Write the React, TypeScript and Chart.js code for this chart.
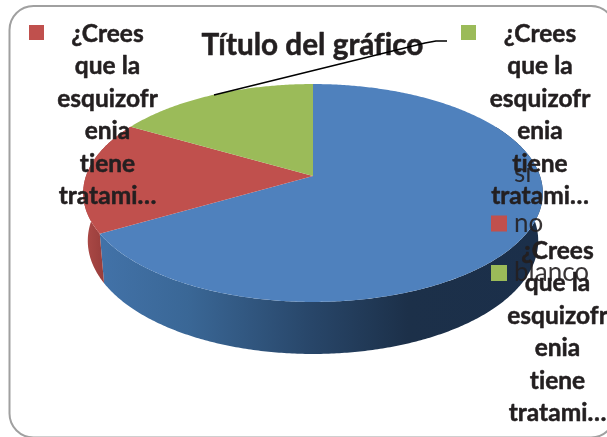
import React, { useEffect, useRef } from "react";
import { Chart, registerables } from "chart.js";

Chart.register(...registerables);

const categories = ["sí", "no", "blanco"];
const values = [20, 5, 5];
const sliceColors = ["#4f81bd", "#c0504d", "#9bbb59"];
const titleText = "Título del gráfico";
const dataLabelLines = ["¿Crees", "que la", "esquizofr", "enia", "tiene", "tratami…"];

const INK = "#231f20";
const FONT = "Lato, 'Open Sans', sans-serif";

// projective view of the pie's unit disc
const view = { cx: 313, cy: 176, a: 227, b: 106.3, k: 0.156 };
const project = (angle: number, depth: number) => {
  const u = Math.cos(angle);
  const v = Math.sin(angle);
  const w = 1 - view.k * v;
  const s = depth ? 0.98 : 1;
  return {
    x: view.cx + (s * view.a * u) / w,
    y: view.cy + (view.b * v) / w + (depth ? 47 + 5 * v : 0),
  };
};

const arcPoints = (from: number, to: number, depth: number) => {
  const n = Math.max(2, Math.ceil(Math.abs(to - from) / 0.01));
  const pts = [];
  for (let i = 0; i <= n; i++) pts.push(project(from + ((to - from) * i) / n, depth));
  return pts;
};

const trace = (ctx: CanvasRenderingContext2D, pts: { x: number; y: number }[]) => {
  pts.forEach((p) => ctx.lineTo(p.x, p.y));
};

const boldText = (ctx: CanvasRenderingContext2D, text: string, x: number, y: number) => {
  ctx.strokeText(text, x, y);
  ctx.fillText(text, x, y);
};

const perspectivePie = {
  id: "perspectivePie",
  beforeDatasetDraw(chart: any) {
    const ctx: CanvasRenderingContext2D = chart.ctx;
    const arcs = chart.getDatasetMeta(0).data;
    const wallFrom = (-30 * Math.PI) / 180;
    const wallTo = (210 * Math.PI) / 180;
    ctx.save();
    // side walls
    arcs.forEach((arc: any, i: number) => {
      const from = Math.max(arc.startAngle, wallFrom);
      const to = Math.min(arc.endAngle, wallTo);
      if (to <= from) return;
      const g = ctx.createLinearGradient(i === 0 ? 100 : 84, 0, i === 0 ? 540 : 106, 0);
      if (i === 0) {
        g.addColorStop(0, "#4272a8");
        g.addColorStop(0.2, "#3a6796");
        g.addColorStop(0.48, "#284669");
        g.addColorStop(0.7, "#1c3049");
        g.addColorStop(1, "#1b2f4a");
      } else {
        g.addColorStop(0, "#ad4a47");
        g.addColorStop(1, "#963c3a");
      }
      ctx.beginPath();
      trace(ctx, arcPoints(from, to, 0).concat(arcPoints(to, from, 1)));
      ctx.closePath();
      ctx.fillStyle = g;
      ctx.fill();
    });
    // top face
    arcs.forEach((arc: any, i: number) => {
      ctx.beginPath();
      ctx.moveTo(view.cx, view.cy);
      trace(ctx, arcPoints(arc.startAngle, arc.endAngle, 0));
      ctx.closePath();
      ctx.fillStyle = sliceColors[i];
      ctx.fill();
    });
    ctx.restore();
    return false;
  },
  afterDraw(chart: any) {
    const ctx: CanvasRenderingContext2D = chart.ctx;
    ctx.save();
    (ctx as any).letterSpacing = "0.01px";
    ctx.lineJoin = "round";

    // chart frame
    ctx.beginPath();
    ctx.roundRect(9.5, 6, 605.5, 431.5, 24);
    ctx.strokeStyle = "#a0a0a0";
    ctx.lineWidth = 2;
    ctx.stroke();

    // title
    ctx.fillStyle = INK;
    ctx.strokeStyle = INK;
    ctx.lineWidth = 0.5;
    ctx.textAlign = "center";
    ctx.textBaseline = "alphabetic";
    ctx.font = `bold 29.7px ${FONT}`;
    boldText(ctx, titleText, 312.5, 55);

    // leader line
    ctx.beginPath();
    ctx.moveTo(214, 95);
    ctx.lineTo(425, 43);
    ctx.lineTo(436, 41);
    ctx.lineTo(447, 41);
    ctx.strokeStyle = "#000000";
    ctx.lineWidth = 1.5;
    ctx.stroke();

    // data labels
    const labelAnchors = [
      { x: 107.5, y: 42, slice: 1 },
      { x: 540, y: 42, slice: 2 },
      { x: 557.5, y: 259, slice: 0 },
    ];
    ctx.font = `bold 24.5px ${FONT}`;
    ctx.strokeStyle = INK;
    ctx.lineWidth = 0.5;
    labelAnchors.forEach(({ x, y, slice }) => {
      ctx.fillStyle = INK;
      dataLabelLines.forEach((line, i) => boldText(ctx, line, x, y + i * 32.4));
      if (slice === 1 || slice === 2) {
        ctx.fillStyle = sliceColors[slice];
        ctx.fillRect(slice === 1 ? 29 : 461, 25, 15, 15);
      }
    });

    // legend
    ctx.textAlign = "left";
    ctx.font = `26px ${FONT}`;
    categories.forEach((name, i) => {
      const y = 166 + i * 49.5;
      ctx.fillStyle = sliceColors[i];
      ctx.fillRect(491, y, 16, 16);
      ctx.fillStyle = "rgba(35,31,32,0.9)";
      ctx.fillText(name, 514, y + 16);
    });
    ctx.restore();
  },
};

export default function App() {
  const ref = useRef<HTMLCanvasElement>(null);
  useEffect(() => {
    const chart = new Chart(ref.current!, {
      type: "pie",
      data: {
        labels: categories,
        datasets: [{ data: values, backgroundColor: sliceColors, borderWidth: 0 }],
      },
      options: {
        responsive: false,
        animation: false,
        plugins: { legend: { display: false }, tooltip: { enabled: false } },
      },
      plugins: [perspectivePie],
    } as any);
    return () => chart.destroy();
  }, []);
  return (
    <div style={{ position: "fixed", left: 0, top: 0, width: 607, height: 437, background: "#fff", overflow: "hidden" }}>
      <canvas ref={ref} width={607} height={437} style={{ display: "block" }} />
    </div>
  );
}
